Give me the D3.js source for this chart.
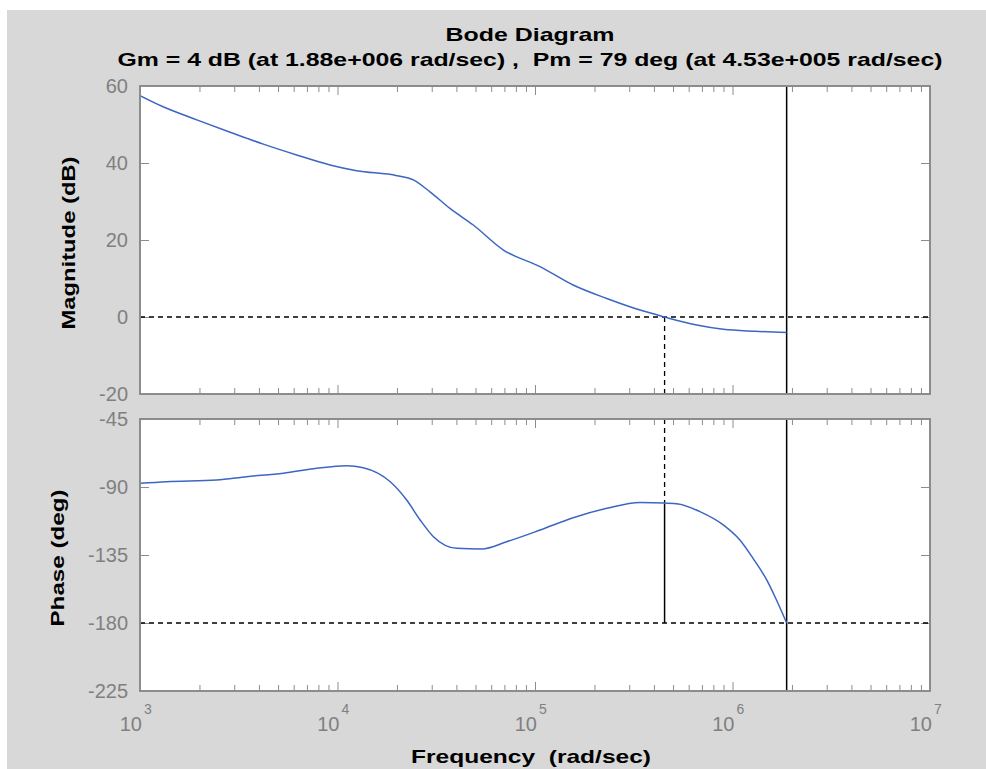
<!DOCTYPE html>
<head>
  <meta charset="utf-8">
  <script src="https://d3js.org/d3.v7.min.js"></script>
  <title>Bode Diagram</title>
  <style>
    body { margin: 0; background: #fff; }
    svg { display: block; }
    .tick-label {
      font-family: "Liberation Sans", Arial, sans-serif;
      font-size: 20px;
      fill: #808080;
    }
    .lab {
      font-family: "Liberation Sans", Arial, sans-serif;
      font-weight: bold;
      fill: #000;
    }
    .axis path { display: none; }
    .axis line { stroke: #8c8c8c; stroke-width: 1; }
    .curve { fill: none; stroke: #3c66c4; stroke-width: 1.5; }
    .dash { fill: none; stroke: #000; stroke-width: 1.3; stroke-dasharray: 5,4; }
    .solid { fill: none; stroke: #000; stroke-width: 1.5; }
  </style>
</head>
<body>
<svg width="986" height="769"></svg>
<script>

// magnitude (rad/sec, dB)
var magFreq = [1e3, 1.31e3, 1.94e3, 2.86e3, 4.21e3, 6.21e3, 9.16e3, 1.25e4, 2.0e4, 2.42e4,
               2.94e4, 3.71e4, 4.87e4, 6.92e4, 1.06e5, 1.56e5, 2.31e5, 3.40e5, 4.53e5,
               6.59e5, 8.98e5, 1.3e6, 1.88e6];
var magDb   = [57.5, 54.6, 51.2, 48.0, 44.9, 42.1, 39.5, 38.0, 36.7, 35.6,
               32.5, 28.2, 23.9, 17.4, 13.1, 8.3, 4.8, 1.8, 0,
               -2.1, -3.2, -3.7, -4];

// phase (rad/sec, deg)
var phaseFreq = [1e3, 1.36e3, 2.44e3, 3.47e3, 5.32e3, 7.85e3, 1.11e4, 1.35e4, 1.85e4, 2.24e4,
                 2.62e4, 3.06e4, 4.02e4, 5.37e4, 7.19e4, 1.06e5, 1.56e5, 2.31e5, 3.40e5,
                 4.53e5, 5.32e5, 6.84e5, 8.98e5, 1.09e6, 1.27e6, 1.49e6, 1.67e6, 1.88e6];
var phaseDeg  = [-87.6, -86.5, -85.4, -83.2, -80.9, -77.6, -75.9, -77.2, -86.5, -98.6,
                 -111.8, -122.9, -130.6, -131.0, -126.2, -118.5, -110.3, -104.1, -100.2,
                 -100.6, -101.2, -106.3, -115.1, -125.1, -137.2, -151.5, -164.8, -180];

var magTicks = [-20, 0, 20, 40, 60];
var phaseTicks = [-225, -180, -135, -90, -45];
var decadeExps = [3, 4, 5, 6, 7];

var gmFreq = 1.88e6, gmDb = -4;
var pmFreq = 4.53e5, pmPhase = -101;

var titleText = "Bode Diagram";
var subText = "Gm = 4 dB (at 1.88e+006 rad/sec) ,  Pm = 79 deg (at 4.53e+005 rad/sec)";

var svg = d3.select("svg");

svg.append("rect")
    .attr("x", 7).attr("y", 10)
    .attr("width", 979).attr("height", 759)
    .attr("fill", "#d8d8d8");

var left = 140, right = 930;
var x = d3.scaleLog().domain([1e3, 1e7]).range([left, right]);
var yMag = d3.scaleLinear().domain([-20, 60]).range([394, 86]);
var yPh = d3.scaleLinear().domain([-225, -45]).range([691, 419]);

var majors = decadeExps.map(function(e) { return Math.pow(10, e); });
var minors = [];
decadeExps.slice(0, -1).forEach(function(e) {
  for (var m = 2; m <= 9; m++) minors.push(m * Math.pow(10, e));
});

function panel(y, ticks, id) {
  var top = y.range()[1], bottom = y.range()[0];
  var g = svg.append("g");

  g.append("rect")
      .attr("x", left).attr("y", top)
      .attr("width", right - left).attr("height", bottom - top)
      .attr("fill", "#fff");

  g.append("clipPath").attr("id", id)
    .append("rect")
      .attr("x", left).attr("y", top)
      .attr("width", right - left).attr("height", bottom - top);

  // ticks point inwards on all four sides
  g.append("g").attr("class", "axis")
      .attr("transform", "translate(0," + bottom + ")")
      .call(d3.axisBottom(x).tickValues(majors).tickSize(-9).tickFormat(""));
  g.append("g").attr("class", "axis")
      .attr("transform", "translate(0," + bottom + ")")
      .call(d3.axisBottom(x).tickValues(minors).tickSize(-6).tickFormat(""));
  g.append("g").attr("class", "axis")
      .attr("transform", "translate(0," + top + ")")
      .call(d3.axisTop(x).tickValues(majors).tickSize(-9).tickFormat(""));
  g.append("g").attr("class", "axis")
      .attr("transform", "translate(0," + top + ")")
      .call(d3.axisTop(x).tickValues(minors).tickSize(-6).tickFormat(""));
  g.append("g").attr("class", "axis")
      .attr("transform", "translate(" + left + ",0)")
      .call(d3.axisLeft(y).tickValues(ticks).tickSize(-9).tickFormat(""));
  g.append("g").attr("class", "axis")
      .attr("transform", "translate(" + right + ",0)")
      .call(d3.axisRight(y).tickValues(ticks).tickSize(-9).tickFormat(""));

  g.selectAll(".ylab")
    .data(ticks)
    .enter().append("text")
      .attr("class", "tick-label")
      .attr("x", left - 12)
      .attr("y", function(d) { return y(d); })
      .attr("dy", "0.36em")
      .attr("text-anchor", "end")
      .text(function(d) { return d; });

  return g;
}

var gMag = panel(yMag, magTicks, "clipMag");
var gPh = panel(yPh, phaseTicks, "clipPh");

// reference lines
gMag.append("line").attr("class", "dash")
    .attr("x1", left).attr("x2", right)
    .attr("y1", yMag(0)).attr("y2", yMag(0));
gPh.append("line").attr("class", "dash")
    .attr("x1", left).attr("x2", right)
    .attr("y1", yPh(-180)).attr("y2", yPh(-180));

// phase margin markers
gMag.append("line").attr("class", "dash")
    .attr("x1", x(pmFreq)).attr("x2", x(pmFreq))
    .attr("y1", yMag(0)).attr("y2", yMag.range()[0]);
gPh.append("line").attr("class", "dash")
    .attr("x1", x(pmFreq)).attr("x2", x(pmFreq))
    .attr("y1", yPh.range()[1]).attr("y2", yPh(pmPhase));
gPh.append("line").attr("class", "solid")
    .attr("x1", x(pmFreq)).attr("x2", x(pmFreq))
    .attr("y1", yPh(pmPhase)).attr("y2", yPh(-180));

// gain margin markers
gMag.append("line").attr("class", "solid")
    .attr("x1", x(gmFreq)).attr("x2", x(gmFreq))
    .attr("y1", yMag.range()[1]).attr("y2", yMag.range()[0]);
gPh.append("line").attr("class", "solid")
    .attr("x1", x(gmFreq)).attr("x2", x(gmFreq))
    .attr("y1", yPh.range()[1]).attr("y2", yPh.range()[0]);

var magLine = d3.line()
    .x(function(d, i) { return x(magFreq[i]); })
    .y(function(d) { return yMag(d); })
    .curve(d3.curveMonotoneX);
var phLine = d3.line()
    .x(function(d, i) { return x(phaseFreq[i]); })
    .y(function(d) { return yPh(d); })
    .curve(d3.curveMonotoneX);

gMag.append("path").attr("class", "curve")
    .attr("clip-path", "url(#clipMag)")
    .attr("d", magLine(magDb));
gPh.append("path").attr("class", "curve")
    .attr("clip-path", "url(#clipPh)")
    .attr("d", phLine(phaseDeg));

// box on top
[yMag, yPh].forEach(function(y) {
  svg.append("rect")
      .attr("x", left).attr("y", y.range()[1])
      .attr("width", right - left).attr("height", y.range()[0] - y.range()[1])
      .attr("fill", "none")
      .attr("stroke", "#8c8c8c")
      .attr("stroke-width", 2);
});

// x tick labels 10^n
var xl = svg.selectAll(".xlab")
    .data(decadeExps)
    .enter().append("g");
xl.append("text")
    .attr("class", "tick-label")
    .attr("x", function(d) { return x(Math.pow(10, d)) + 2; })
    .attr("y", 731)
    .attr("text-anchor", "end")
    .text("10");
xl.append("text")
    .attr("class", "tick-label")
    .style("font-size", "14px")
    .attr("x", function(d) { return x(Math.pow(10, d)) + 4; })
    .attr("y", 714)
    .text(function(d) { return d; });

// titles
svg.append("text").attr("class", "lab")
    .attr("x", 530).attr("y", 41)
    .attr("text-anchor", "middle")
    .style("font-size", "19px")
    .attr("textLength", 169).attr("lengthAdjust", "spacingAndGlyphs")
    .text(titleText);
svg.append("text").attr("class", "lab")
    .attr("x", 530).attr("y", 66)
    .attr("text-anchor", "middle")
    .style("font-size", "19px")
    .attr("textLength", 825).attr("lengthAdjust", "spacingAndGlyphs")
    .style("white-space", "pre")
    .text(subText);

svg.append("text").attr("class", "lab")
    .attr("transform", "translate(75,243) rotate(-90)")
    .attr("text-anchor", "middle")
    .style("font-size", "19px")
    .attr("textLength", 173).attr("lengthAdjust", "spacingAndGlyphs")
    .text("Magnitude (dB)");
svg.append("text").attr("class", "lab")
    .attr("transform", "translate(64,558) rotate(-90)")
    .attr("text-anchor", "middle")
    .style("font-size", "19px")
    .attr("textLength", 137).attr("lengthAdjust", "spacingAndGlyphs")
    .text("Phase (deg)");
svg.append("text").attr("class", "lab")
    .attr("x", 531).attr("y", 763)
    .attr("text-anchor", "middle")
    .style("font-size", "19px")
    .style("white-space", "pre")
    .attr("textLength", 240).attr("lengthAdjust", "spacingAndGlyphs")
    .text("Frequency  (rad/sec)");

</script>
</body>
